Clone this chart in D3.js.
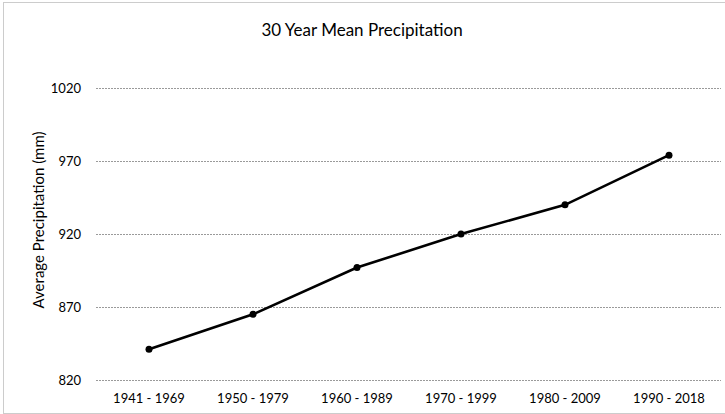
<!DOCTYPE html>
<html>
<head>
<meta charset="utf-8">
<script src="https://cdn.jsdelivr.net/npm/d3@7"></script>
<style>
  html, body { margin: 0; padding: 0; background: #fff; }
  svg { display: block; }
  text { font-family: Lato, "Open Sans", sans-serif; fill: #000; }
</style>
</head>
<body>
<svg id="chart" width="725" height="414"></svg>
<script>
const categories = ["1941 - 1969", "1950 - 1979", "1960 - 1989", "1970 - 1999", "1980 - 2009", "1990 - 2018"];
const precipitation = [841, 865, 897, 920, 940, 974];
const yTicks = [820, 870, 920, 970, 1020];
const title = "30 Year Mean Precipitation";
const yLabel = "Average Precipitation (mm)";

const svg = d3.select("#chart");
const W = 725, H = 414;
const margin = { left: 97, right: 4, top: 88, bottom: 34 };

// Chart border (scanned dotted frame)
svg.append("rect")
  .attr("x", 3.5).attr("y", 2.5)
  .attr("width", W - 3).attr("height", H - 3)
  .attr("fill", "none").attr("stroke", "#999")
  .attr("stroke-width", 1).attr("stroke-dasharray", "1,1");

const x = d3.scaleBand().domain(categories).range([margin.left, W - margin.right]);
const y = d3.scaleLinear().domain([820, 1020]).range([H - margin.bottom, margin.top]);

// Gridlines
const grid = svg.append("g")
  .attr("transform", `translate(${margin.left - 1},0)`)
  .call(d3.axisLeft(y).tickValues(yTicks).tickSize(-(W - margin.right - margin.left + 1)).tickFormat(""));
grid.select(".domain").remove();
grid.selectAll(".tick line").attr("stroke", "#9a9a9a").attr("stroke-width", 1).attr("stroke-dasharray", "2,1");

// Y axis labels
const yAxis = svg.append("g")
  .attr("transform", `translate(${margin.left - 16},0)`)
  .call(d3.axisLeft(y).tickValues(yTicks).tickFormat(d3.format("d")).tickSize(0).tickPadding(0));
yAxis.select(".domain").remove();
yAxis.selectAll("text").style("font-size", "13px").style("font-family", "Lato, 'Open Sans', sans-serif").attr("fill", "#000");

// X axis labels
const xAxis = svg.append("g")
  .attr("transform", `translate(0,${H - margin.bottom + 12})`)
  .call(d3.axisBottom(x).tickSize(0).tickPadding(2));
xAxis.select(".domain").remove();
xAxis.selectAll("text").style("font-size", "13px").style("font-family", "Lato, 'Open Sans', sans-serif").attr("fill", "#000");

// Title
svg.append("text")
  .attr("x", 362).attr("y", 36)
  .attr("text-anchor", "middle")
  .style("font-size", "17px")
  .text(title);

// Y label
svg.append("text")
  .attr("transform", `translate(44,220) rotate(-90)`)
  .attr("text-anchor", "middle")
  .style("font-size", "15px")
  .text(yLabel);

// Line
const data = categories.map((c, i) => ({ c, v: precipitation[i] }));
const line = d3.line().x(d => x(d.c) + x.bandwidth() / 2).y(d => y(d.v));
svg.append("path")
  .datum(data)
  .attr("fill", "none")
  .attr("stroke", "#000")
  .attr("stroke-width", 2.6)
  .attr("d", line);

svg.selectAll("circle.pt")
  .data(data)
  .enter().append("circle")
  .attr("class", "pt")
  .attr("cx", d => x(d.c) + x.bandwidth() / 2)
  .attr("cy", d => y(d.v))
  .attr("r", 3.5)
  .attr("fill", "#000");
</script>
</body>
</html>
